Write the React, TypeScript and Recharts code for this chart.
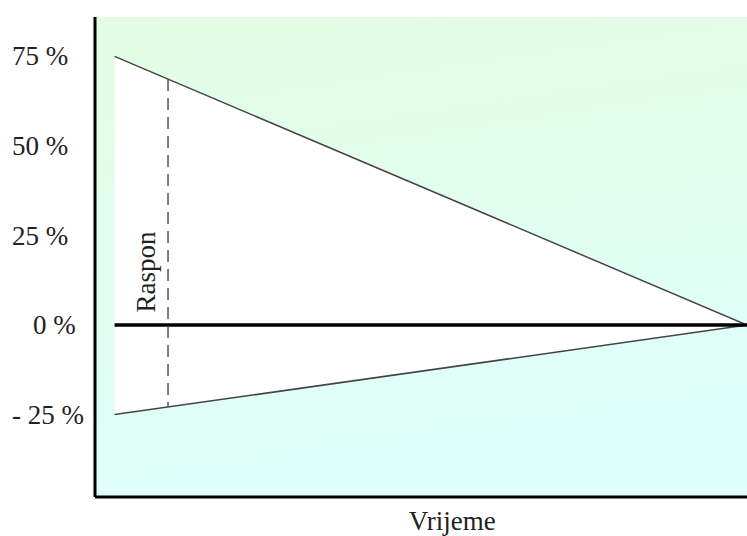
import { ComposedChart, Area, Line, XAxis, YAxis, CartesianGrid, ReferenceLine, Label } from "recharts"

// time axis runs 0..100, values are in percent
const times = [3, 100]
const upperBound = [75, 0]
const lowerBound = [-25, 0]
const zeroLine = [0, 0]

const yTicks = [-25, 0, 25, 50, 75]
const yTickLabels: Record<number, string> = {
  [-25]: "- 25 %",
  0: "0 %",
  25: "25 %",
  50: "50 %",
  75: "75 %",
}

// the dashed "Raspon" marker
const rangeAt = 11.2
const rangeTop = 68.7
const rangeBottom = -22.9

const FONT = "'Liberation Serif', 'Times New Roman', serif"

const data = times.map((t, i) => ({
  t,
  band: [lowerBound[i], upperBound[i]],
  upper: upperBound[i],
  lower: lowerBound[i],
  zero: zeroLine[i],
}))

function YTick(props: any) {
  const { y, payload } = props
  const label = yTickLabels[payload.value] ?? String(payload.value)
  return (
    <text
      x={12}
      y={y}
      dx={payload.value === 0 ? 21 : 0}
      dy={9}
      textAnchor="start"
      fontSize={27}
      fontFamily={FONT}
      fill="#222"
    >
      {label}
    </text>
  )
}

function RangeLabel(props: any) {
  const vb = props.viewBox || {}
  const cx = (vb.x ?? 0) - 13
  const cy = (vb.y ?? 0) + (vb.height ?? 0) * 0.588
  return (
    <text
      x={cx}
      y={cy}
      transform={`rotate(-90 ${cx} ${cy})`}
      textAnchor="middle"
      fontSize={27}
      fontFamily={FONT}
      fill="#222"
    >
      Raspon
    </text>
  )
}

// axis title sits right of the plot centre in the original
function TimeLabel(props: any) {
  const vb = props.viewBox || {}
  const cx = (vb.x ?? 0) + (vb.width ?? 0) * 0.548
  const by = (vb.y ?? 0) + 33
  return (
    <text x={cx} y={by} textAnchor="middle" fontSize={27} fontFamily={FONT} fill="#222">
      Vrijeme
    </text>
  )
}

export default function App() {
  return (
    <div style={{ position: "absolute", left: 0, top: 0, background: "#fff" }}>
      <ComposedChart
        width={747}
        height={536}
        data={data}
        margin={{ top: 17, right: 0, bottom: 0, left: 0 }}
      >
        <defs>
          <linearGradient id="bgFill" x1="0" y1="0" x2="0.2" y2="1">
            <stop offset="0%" stopColor="#E3FDE3" />
            <stop offset="100%" stopColor="#DFFFFB" />
          </linearGradient>
        </defs>
        <CartesianGrid horizontal={false} vertical={false} fill="url(#bgFill)" />
        <XAxis
          type="number"
          dataKey="t"
          domain={[0, 100]}
          tick={false}
          tickLine={false}
          height={39}
          axisLine={{ stroke: "#000", strokeWidth: 3 }}
        >
          <Label content={<TimeLabel />} />
        </XAxis>
        <YAxis
          type="number"
          domain={[-48, 86]}
          ticks={yTicks}
          tick={<YTick />}
          tickLine={false}
          width={95}
          axisLine={{ stroke: "#000", strokeWidth: 3 }}
        />
        <Area
          dataKey="band"
          type="linear"
          fill="#fff"
          fillOpacity={1}
          stroke="none"
          isAnimationActive={false}
        />
        <Line dataKey="upper" type="linear" stroke="#444" strokeWidth={1.5} dot={false} isAnimationActive={false} />
        <Line dataKey="lower" type="linear" stroke="#444" strokeWidth={1.5} dot={false} isAnimationActive={false} />
        <Line dataKey="zero" type="linear" stroke="#000" strokeWidth={3.5} dot={false} isAnimationActive={false} />
        <ReferenceLine
          segment={[
            { x: rangeAt, y: rangeTop },
            { x: rangeAt, y: rangeBottom },
          ]}
          stroke="#555"
          strokeWidth={1.5}
          strokeDasharray="12 7"
          label={<RangeLabel />}
        />
      </ComposedChart>
    </div>
  )
}
